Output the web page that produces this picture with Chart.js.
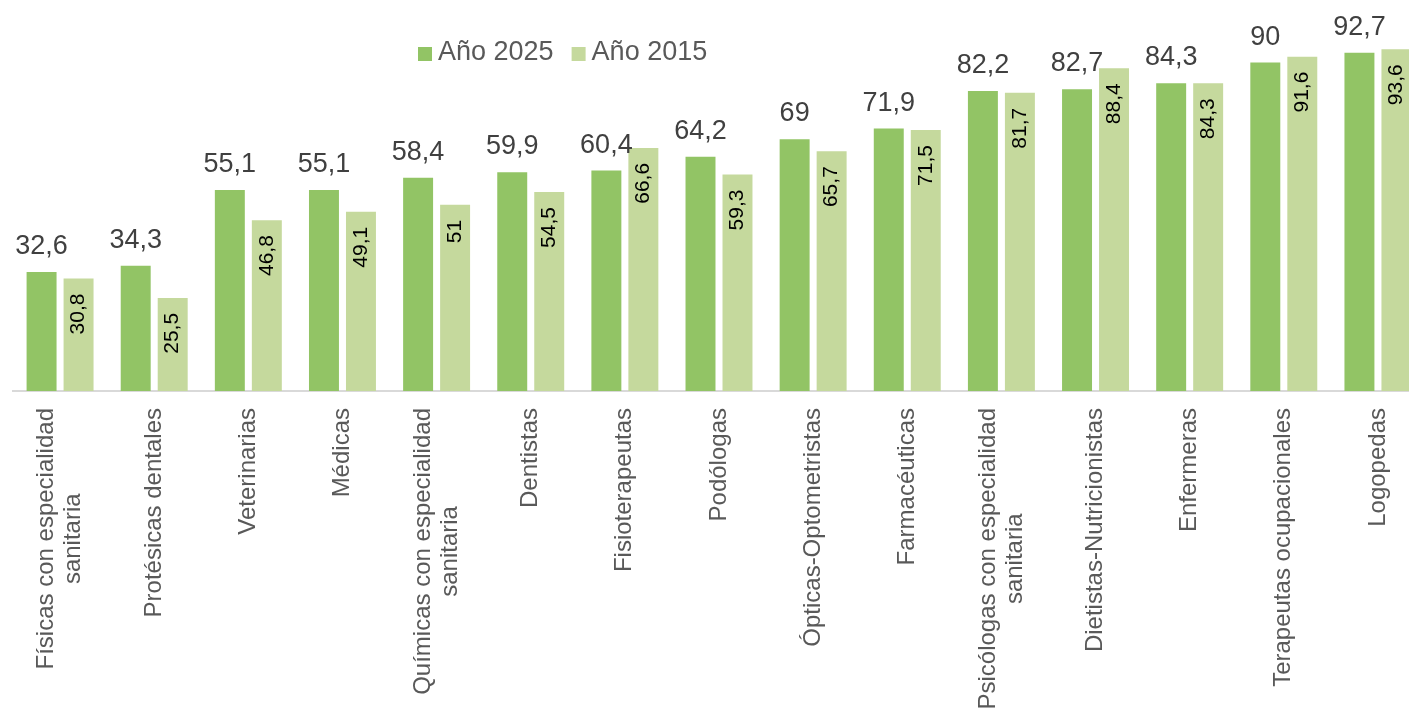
<!DOCTYPE html>
<html>
<head>
<meta charset="utf-8">
<script src="https://cdn.jsdelivr.net/npm/chart.js@4.4.1/dist/chart.umd.min.js"></script>
<style>
  html, body { margin: 0; padding: 0; background: #fff; overflow: hidden; }
  #wrap { position: relative; width: 1409px; height: 708px; overflow: hidden; }
  #box { position: absolute; left: 0; top: 0; width: 1440px; height: 708px; }
</style>
</head>
<body>
<div id="wrap"><div id="box"><canvas id="chart"></canvas></div></div>
<script>
// data
const categories = [
    ['Físicas con especialidad', 'sanitaria'],
    ['Protésicas dentales'],
    ['Veterinarias'],
    ['Médicas'],
    ['Químicas con especialidad', 'sanitaria'],
    ['Dentistas'],
    ['Fisioterapeutas'],
    ['Podólogas'],
    ['Ópticas-Optometristas'],
    ['Farmacéuticas'],
    ['Psicólogas con especialidad', 'sanitaria'],
    ['Dietistas-Nutricionistas'],
    ['Enfermeras'],
    ['Terapeutas ocupacionales'],
    ['Logopedas']
];
const seriesNames = ['Año 2025', 'Año 2015'];
const values2025 = [32.6, 34.3, 55.1, 55.1, 58.4, 59.9, 60.4, 64.2, 69, 71.9, 82.2, 82.7, 84.3, 90, 92.7];
const values2015 = [30.8, 25.5, 46.8, 49.1, 51, 54.5, 66.6, 59.3, 65.7, 71.5, 81.7, 88.4, 84.3, 91.6, 93.6];

const FONT = '"Liberation Sans", Arial, sans-serif';
const fmt = v => String(v).replace('.', ',');

const labelPlugin = {
    id: 'customLabels',
    afterDatasetsDraw(chart) {
        const ctx = chart.ctx;
        const area = chart.chartArea;
        const xs = chart.scales.x;
        ctx.save();

        // values above the 2025 bars
        ctx.font = '27px ' + FONT;
        ctx.fillStyle = '#404040';
        ctx.textAlign = 'center';
        ctx.textBaseline = 'alphabetic';
        chart.getDatasetMeta(0).data.forEach((bar, i) => {
            ctx.fillText(fmt(values2025[i]), bar.x, bar.y - 18);
        });

        // values inside the 2015 bars, rotated
        ctx.font = '21px ' + FONT;
        ctx.fillStyle = '#000000';
        ctx.textAlign = 'right';
        ctx.textBaseline = 'middle';
        chart.getDatasetMeta(1).data.forEach((bar, i) => {
            ctx.save();
            ctx.translate(bar.x, bar.y + 15);
            ctx.rotate(-Math.PI / 2);
            ctx.fillText(fmt(values2015[i]), 0, 0);
            ctx.restore();
        });

        // category labels, rotated, lines centred on each other
        ctx.font = '24px ' + FONT;
        ctx.fillStyle = '#595959';
        ctx.textAlign = 'center';
        ctx.textBaseline = 'middle';
        const top = area.bottom + 17;
        categories.forEach((lines, i) => {
            const cx = xs.getPixelForTick(i);
            const maxW = Math.max(...lines.map(l => ctx.measureText(l).width));
            lines.forEach((line, j) => {
                ctx.save();
                ctx.translate(cx + (j - (lines.length - 1) / 2) * 27, top);
                ctx.rotate(-Math.PI / 2);
                ctx.fillText(line, -maxW / 2, 0);
                ctx.restore();
            });
        });

        // legend
        ctx.font = '27px ' + FONT;
        ctx.textAlign = 'left';
        let x = 418;
        const ly = 54;
        chart.data.datasets.forEach(ds => {
            ctx.fillStyle = ds.backgroundColor;
            ctx.fillRect(x, ly - 7, 14, 14);
            x += 20;
            ctx.fillStyle = '#595959';
            ctx.fillText(ds.label, x, ly - 1);
            x += ctx.measureText(ds.label).width + 18;
        });

        ctx.restore();
    }
};

const chart = new Chart(document.getElementById('chart'), {
    type: 'bar',
    data: {
        labels: categories,
        datasets: [
            { label: seriesNames[0], data: values2025, backgroundColor: '#92C465' },
            { label: seriesNames[1], data: values2015, backgroundColor: '#C5D99D' }
        ]
    },
    options: {
        responsive: true,
        maintainAspectRatio: false,
        devicePixelRatio: 1,
        animation: false,
        categoryPercentage: 0.786,
        barPercentage: 0.81,
        layout: { padding: { left: 13, right: 15, top: 26, bottom: 317 } },
        plugins: {
            legend: { display: false },
            tooltip: { enabled: false }
        },
        scales: {
            x: {
                grid: { display: false, drawTicks: false },
                ticks: { display: false },
                border: { display: true, color: '#D9D9D9', width: 2 }
            },
            y: {
                display: false,
                min: 0,
                max: 100
            }
        }
    },
    plugins: [labelPlugin]
});
</script>
</body>
</html>
